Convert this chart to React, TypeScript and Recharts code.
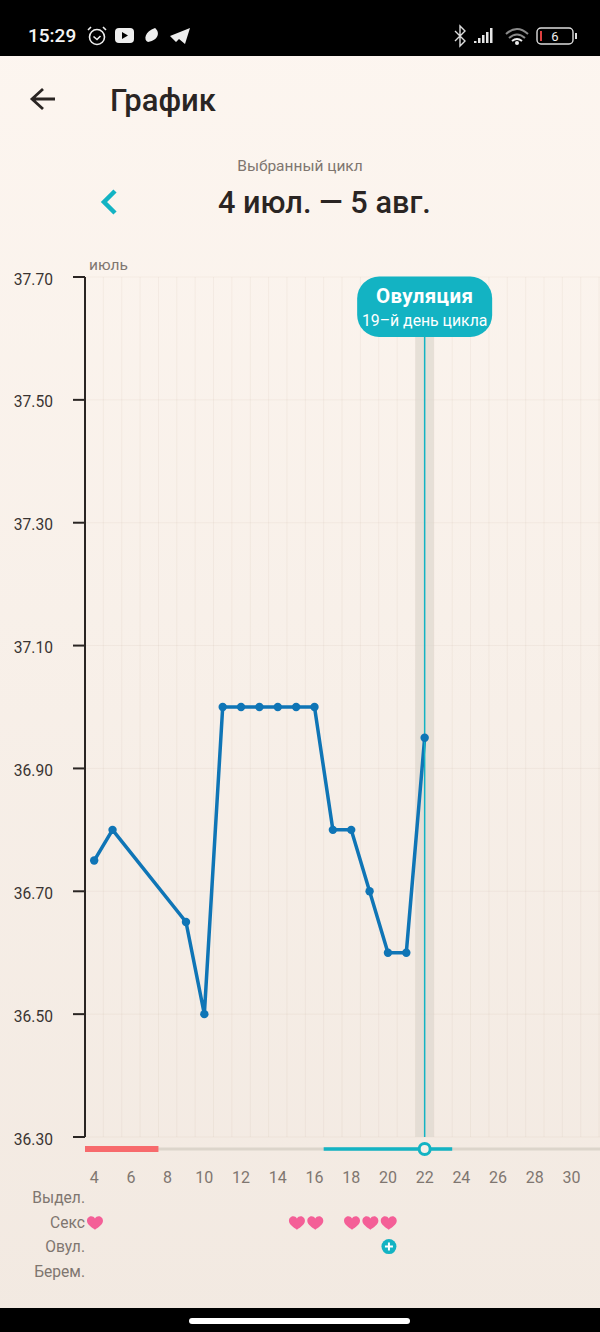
import {
  CartesianGrid,
  ComposedChart,
  Line,
  ReferenceArea,
  ReferenceLine,
  Scatter,
  XAxis,
  YAxis,
} from "recharts";

const FONT = "Roboto, sans-serif";
const TEAL = "#13b3c3";
const BLUE = "#0f75b6";
const GREY = "#7f7670";

const temperatureDays = [4, 5, 9, 10, 11, 12, 13, 14, 15, 16, 17, 18, 19, 20, 21, 22];
const temperatures = [36.75, 36.8, 36.65, 36.5, 37, 37, 37, 37, 37, 37, 36.8, 36.8, 36.7, 36.6, 36.6, 36.95];
const temperatureTicks = [36.3, 36.5, 36.7, 36.9, 37.1, 37.3, 37.5, 37.7];
const dayTicks = [4, 6, 8, 10, 12, 14, 16, 18, 20, 22, 24, 26, 28, 30];
const dayBoundaries = [
  3.5, 4.5, 5.5, 6.5, 7.5, 8.5, 9.5, 10.5, 11.5, 12.5, 13.5, 14.5, 15.5, 16.5, 17.5,
  18.5, 19.5, 20.5, 21.5, 22.5, 23.5, 24.5, 25.5, 26.5, 27.5, 28.5, 29.5, 30.5, 31.5,
];
const dayDomain = [3.5, 31.55];
const ovulationDay = 22;
const periodRange = [3.5, 7.5];
const fertileRange = [16.5, 23.5];
const sexDays = [4, 15, 16, 18, 19, 20];
const ovulationTestDays = [20];
const rowLabels = ["", "", "Выдел.", "Секс", "Овул.", "Берем."];

const chartData = temperatureDays.map((day, i) => ({ day, temp: temperatures[i] }));
const railRow = 0;
const railData = dayDomain.map((day) => ({ day, row: railRow }));
const periodData = periodRange.map((day) => ({ day, row: railRow }));
const fertileData = fertileRange.map((day) => ({ day, row: railRow }));
const sexData = sexDays.map((day) => ({ day, row: 3 }));
const testData = ovulationTestDays.map((day) => ({ day, row: 4 }));
const ovulationMark = [{ day: ovulationDay, row: railRow }];

function OvulationPill({ viewBox }: any) {
  const cx = viewBox.x;
  const top = viewBox.y - 0.5;
  return (
    <g fontFamily={FONT} textAnchor="middle" fill="#fff">
      <rect x={cx - 67.5} y={top} width={135} height={60.5} rx={22} fill={TEAL} />
      <text x={cx} y={top + 26} fontSize={20.5} fontWeight={700} letterSpacing={0.4}>
        Овуляция
      </text>
      <text x={cx} y={top + 49} fontSize={15.8}>
        19–й день цикла
      </text>
    </g>
  );
}

function Heart({ cx, cy }: any) {
  return (
    <path
      transform={`translate(${cx + 0.8} ${cy + 0.5})`}
      d="M0 7 C-3 4.6 -8 2 -8 -2 C-8 -5 -5.6 -6.5 -3.8 -6.5 C-2.2 -6.5 -0.8 -5.6 0 -4.2 C0.8 -5.6 2.2 -6.5 3.8 -6.5 C5.6 -6.5 8 -5 8 -2 C8 2 3 4.6 0 7 Z"
      fill="#f45f97"
    />
  );
}

function PlusBadge({ cx, cy }: any) {
  return (
    <g>
      <circle cx={cx + 1} cy={cy} r={7.5} fill={TEAL} />
      <path d={`M${cx - 3} ${cy} h8 M${cx + 1} ${cy - 4} v8`} stroke="#fff" strokeWidth={2} />
    </g>
  );
}

function RingMark({ cx, cy }: any) {
  return <circle cx={cx} cy={cy} r={5.5} fill="#f6f0e9" stroke={TEAL} strokeWidth={3} />;
}

function StatusBar() {
  return (
    <div style={{ position: "absolute", left: 0, top: 0, width: 600, height: 56, background: "#000" }}>
      <div style={{ position: "absolute", left: 28, top: 24, color: "#f4f4f4", fontSize: 19, fontWeight: 500, lineHeight: "24px" }}>
        15:29
      </div>
      <svg width={600} height={56} style={{ position: "absolute", left: 0, top: 0 }}>
        <g fill="none" stroke="#eee" strokeWidth={1.6}>
          <circle cx={97} cy={37} r={7.5} />
          <path d="M93.5 36.5 l3.5 3 l3.5 -3.5 M88 30 l3 -3 M106 30 l-3 -3" />
        </g>
        <rect x={115} y={28} width={19} height={15} rx={4} fill="#eee" />
        <path d="M122 32 l6 3.5 l-6 3.5 Z" fill="#000" />
        <path d="M148 42 C143 40 145 31 155 28 C160 32 159 40 148 42 Z" fill="#eee" />
        <path d="M170 36 L190 28 L185 44 L179 39 L176 42 Z" fill="#eee" />
        <path d="M455 31 L465 41 L460 46 V26 L465 31 L455 41" fill="none" stroke="#ddd" strokeWidth={1.4} />
        <g fill="#e6e6e6">
          <rect x={474} y={41} width={2.5} height={2} />
          <rect x={478} y={38} width={2.5} height={5} />
          <rect x={482} y={35} width={2.5} height={8} />
          <rect x={486} y={32} width={2.5} height={11} />
          <rect x={490} y={28} width={2.5} height={15} />
        </g>
        <g fill="none" stroke="#8a8a8a" strokeWidth={2}>
          <path d="M506 34 Q517 24 528 34" />
          <path d="M509 38 Q517 31 525 38" />
        </g>
        <path d="M512 41 Q517 37 522 41" fill="none" stroke="#eee" strokeWidth={2} />
        <circle cx={517} cy={43} r={2} fill="#eee" />
        <rect x={537} y={28} width={36} height={16} rx={4} fill="none" stroke="#ddd" strokeWidth={1.4} />
        <rect x={540} y={31} width={2} height={10} fill="#e04040" />
        <rect x={575} y={33} width={2} height={6} fill="#ddd" />
        <text x={555} y={41} fontSize={13} fill="#eee" textAnchor="middle" fontFamily={FONT}>
          6
        </text>
      </svg>
    </div>
  );
}

function Header() {
  return (
    <>
      <svg width={600} height={240} style={{ position: "absolute", left: 0, top: 0 }}>
        <path d="M55 99 H33 M43 89 L32 99 L43 109" fill="none" stroke="#2a2523" strokeWidth={2.8} />
        <path d="M115 191 L104 202 L115 213" fill="none" stroke={TEAL} strokeWidth={4.5} />
      </svg>
      <div style={{ position: "absolute", left: 110, top: 83, fontSize: 31, fontWeight: 500, color: "#2a2523", lineHeight: "36px" }}>
        График
      </div>
      <div style={{ position: "absolute", left: 0, width: 600, top: 157, textAlign: "center", fontSize: 15.5, color: GREY, lineHeight: "18px" }}>
        Выбранный цикл
      </div>
      <div style={{ position: "absolute", left: 218, top: 185, fontSize: 30.7, fontWeight: 500, color: "#2a2523", lineHeight: "36px", whiteSpace: "nowrap" }}>
        4 июл. — 5 авг.
      </div>
      <div style={{ position: "absolute", left: 89, top: 256, fontSize: 15.5, color: GREY, lineHeight: "18px" }}>июль</div>
    </>
  );
}

export default function App() {
  return (
    <div
      style={{
        position: "absolute",
        left: 0,
        top: 0,
        width: 600,
        height: 1332,
        overflow: "hidden",
        fontFamily: FONT,
        background: "linear-gradient(180deg, #fdf6f0 0%, #f2e9e1 100%)",
      }}
    >
      <Header />
      <div style={{ position: "absolute", left: 0, top: 0 }}>
        <ComposedChart
          width={600}
          height={1332}
          data={chartData}
          margin={{ top: 277, right: 0, bottom: 155, left: 0 }}
        >
          <CartesianGrid
            stroke="#8a6a4a"
            strokeOpacity={0.06}
            verticalValues={dayBoundaries}
            horizontalValues={temperatureTicks}
          />
          <XAxis
            dataKey="day"
            type="number"
            domain={dayDomain}
            ticks={dayTicks}
            interval={0}
            height={40}
            axisLine={false}
            tickLine={false}
            tickMargin={29}
            tick={{ fill: GREY, fontSize: 16, fontFamily: FONT }}
          />
          <YAxis
            type="number"
            domain={[36.3, 37.7]}
            ticks={temperatureTicks}
            interval={0}
            width={85}
            stroke="#2a2523"
            strokeWidth={2}
            tickSize={12}
            tickMargin={20}
            tickFormatter={(value: number) => value.toFixed(2)}
            tick={{ fill: "#3a3432", fontSize: 15.6, fontFamily: FONT, dy: 2 }}
          />
          <ReferenceArea x1={ovulationDay - 0.5} x2={ovulationDay + 0.5} fill="#dcd6cc" fillOpacity={0.65} stroke="none" />
          <Line
            dataKey="temp"
            stroke={BLUE}
            strokeWidth={3.5}
            dot={{ r: 4.2, fill: BLUE, stroke: BLUE, strokeWidth: 0, fillOpacity: 1 }}
            isAnimationActive={false}
          />
          <ReferenceLine x={ovulationDay} stroke={TEAL} strokeWidth={1.5} label={OvulationPill} />
        </ComposedChart>
      </div>
      <div style={{ position: "absolute", left: 0, top: 1120 }}>
        <ComposedChart width={600} height={180} margin={{ top: 16.8, right: 0, bottom: 16.8, left: 0 }}>
          <XAxis dataKey="day" type="number" domain={dayDomain} hide />
          <YAxis
            dataKey="row"
            type="number"
            domain={[-0.5, 5.5]}
            reversed
            ticks={[2, 3, 4, 5]}
            interval={0}
            width={85}
            axisLine={false}
            tickLine={false}
            tickSize={0}
            tickMargin={0}
            tickFormatter={(value: number) => rowLabels[value]}
            tick={{ fill: GREY, fontSize: 15.6, fontFamily: FONT }}
          />
          <Line data={railData} dataKey="row" stroke="#dcd5cb" strokeWidth={3} dot={false} isAnimationActive={false} />
          <Line data={periodData} dataKey="row" stroke="#f76a6c" strokeWidth={6} dot={false} isAnimationActive={false} />
          <Line data={fertileData} dataKey="row" stroke={TEAL} strokeWidth={3.5} dot={false} isAnimationActive={false} />
          <Scatter data={ovulationMark} dataKey="row" shape={RingMark} isAnimationActive={false} />
          <Scatter data={sexData} dataKey="row" shape={Heart} isAnimationActive={false} />
          <Scatter data={testData} dataKey="row" shape={PlusBadge} isAnimationActive={false} />
        </ComposedChart>
      </div>
      <StatusBar />
      <div style={{ position: "absolute", left: 0, top: 1308, width: 600, height: 24, background: "#000" }}>
        <div style={{ position: "absolute", left: 189, top: 9.5, width: 221, height: 6, borderRadius: 3, background: "#fff" }} />
      </div>
    </div>
  );
}
